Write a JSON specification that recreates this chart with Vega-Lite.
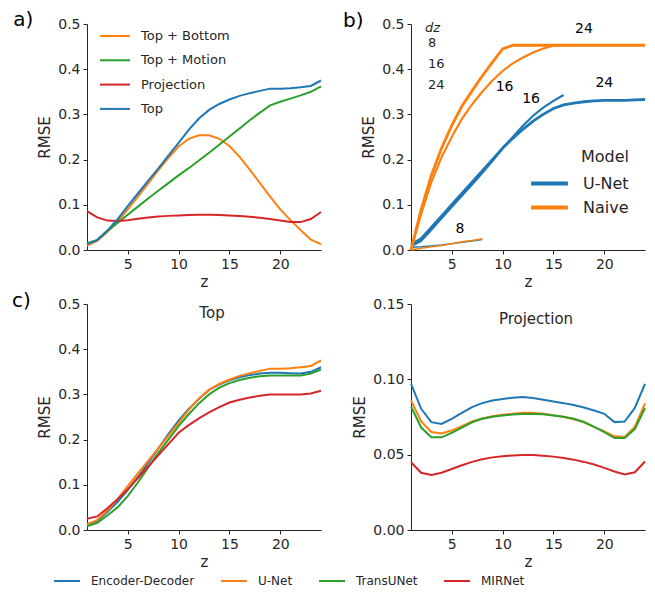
{
  "$schema": "https://vega.github.io/schema/vega-lite/v6.json",
  "padding": {"left": 12, "top": 9, "right": 6, "bottom": 6},
  "background": "white",
  "columns": 2,
  "spacing": {"row": 54, "column": 90},
  "bounds": "flush",
  "resolve": {
    "scale": {"color": "independent", "size": "independent", "x": "independent", "y": "independent"},
    "legend": {"color": "independent", "size": "independent"}
  },
  "datasets": {
    "a": [
      {"m":"Top + Bottom","z":1,"r":0.01},{"m":"Top + Bottom","z":2,"r":0.02},{"m":"Top + Bottom","z":3,"r":0.04},{"m":"Top + Bottom","z":4,"r":0.063},{"m":"Top + Bottom","z":5,"r":0.09},{"m":"Top + Bottom","z":6,"r":0.118},{"m":"Top + Bottom","z":7,"r":0.147},{"m":"Top + Bottom","z":8,"r":0.176},{"m":"Top + Bottom","z":9,"r":0.204},{"m":"Top + Bottom","z":10,"r":0.229},{"m":"Top + Bottom","z":11,"r":0.246},{"m":"Top + Bottom","z":12,"r":0.254},{"m":"Top + Bottom","z":13,"r":0.254},{"m":"Top + Bottom","z":14,"r":0.246},{"m":"Top + Bottom","z":15,"r":0.23},{"m":"Top + Bottom","z":16,"r":0.206},{"m":"Top + Bottom","z":17,"r":0.178},{"m":"Top + Bottom","z":18,"r":0.148},{"m":"Top + Bottom","z":19,"r":0.118},{"m":"Top + Bottom","z":20,"r":0.09},{"m":"Top + Bottom","z":21,"r":0.066},{"m":"Top + Bottom","z":22,"r":0.044},{"m":"Top + Bottom","z":23,"r":0.023},{"m":"Top + Bottom","z":24,"r":0.013},
      {"m":"Top + Motion","z":1,"r":0.015},{"m":"Top + Motion","z":2,"r":0.022},{"m":"Top + Motion","z":3,"r":0.042},{"m":"Top + Motion","z":4,"r":0.06},{"m":"Top + Motion","z":5,"r":0.078},{"m":"Top + Motion","z":6,"r":0.096},{"m":"Top + Motion","z":7,"r":0.114},{"m":"Top + Motion","z":8,"r":0.131},{"m":"Top + Motion","z":9,"r":0.148},{"m":"Top + Motion","z":10,"r":0.165},{"m":"Top + Motion","z":11,"r":0.181},{"m":"Top + Motion","z":12,"r":0.198},{"m":"Top + Motion","z":13,"r":0.215},{"m":"Top + Motion","z":14,"r":0.233},{"m":"Top + Motion","z":15,"r":0.251},{"m":"Top + Motion","z":16,"r":0.269},{"m":"Top + Motion","z":17,"r":0.287},{"m":"Top + Motion","z":18,"r":0.304},{"m":"Top + Motion","z":19,"r":0.32},{"m":"Top + Motion","z":20,"r":0.328},{"m":"Top + Motion","z":21,"r":0.335},{"m":"Top + Motion","z":22,"r":0.342},{"m":"Top + Motion","z":23,"r":0.35},{"m":"Top + Motion","z":24,"r":0.362},
      {"m":"Projection","z":1,"r":0.086},{"m":"Projection","z":2,"r":0.072},{"m":"Projection","z":3,"r":0.065},{"m":"Projection","z":4,"r":0.064},{"m":"Projection","z":5,"r":0.066},{"m":"Projection","z":6,"r":0.069},{"m":"Projection","z":7,"r":0.072},{"m":"Projection","z":8,"r":0.074},{"m":"Projection","z":9,"r":0.0755},{"m":"Projection","z":10,"r":0.0765},{"m":"Projection","z":11,"r":0.0772},{"m":"Projection","z":12,"r":0.0778},{"m":"Projection","z":13,"r":0.0778},{"m":"Projection","z":14,"r":0.0772},{"m":"Projection","z":15,"r":0.0762},{"m":"Projection","z":16,"r":0.075},{"m":"Projection","z":17,"r":0.0735},{"m":"Projection","z":18,"r":0.0715},{"m":"Projection","z":19,"r":0.0685},{"m":"Projection","z":20,"r":0.0655},{"m":"Projection","z":21,"r":0.0622},{"m":"Projection","z":22,"r":0.0617},{"m":"Projection","z":23,"r":0.0685},{"m":"Projection","z":24,"r":0.084},
      {"m":"Top","z":1,"r":0.013},{"m":"Top","z":2,"r":0.022},{"m":"Top","z":3,"r":0.043},{"m":"Top","z":4,"r":0.068},{"m":"Top","z":5,"r":0.097},{"m":"Top","z":6,"r":0.125},{"m":"Top","z":7,"r":0.153},{"m":"Top","z":8,"r":0.18},{"m":"Top","z":9,"r":0.209},{"m":"Top","z":10,"r":0.237},{"m":"Top","z":11,"r":0.266},{"m":"Top","z":12,"r":0.291},{"m":"Top","z":13,"r":0.31},{"m":"Top","z":14,"r":0.323},{"m":"Top","z":15,"r":0.333},{"m":"Top","z":16,"r":0.341},{"m":"Top","z":17,"r":0.347},{"m":"Top","z":18,"r":0.352},{"m":"Top","z":19,"r":0.357},{"m":"Top","z":20,"r":0.357},{"m":"Top","z":21,"r":0.358},{"m":"Top","z":22,"r":0.36},{"m":"Top","z":23,"r":0.363},{"m":"Top","z":24,"r":0.375}
    ],
    "b": [
      {"m":"U-Net","d":8,"z":1,"r":0.006},{"m":"U-Net","d":8,"z":2,"r":0.007},{"m":"U-Net","d":8,"z":3,"r":0.009},{"m":"U-Net","d":8,"z":4,"r":0.011},{"m":"U-Net","d":8,"z":5,"r":0.014},{"m":"U-Net","d":8,"z":6,"r":0.017},{"m":"U-Net","d":8,"z":7,"r":0.02},{"m":"U-Net","d":8,"z":8,"r":0.023},
      {"m":"U-Net","d":16,"z":1,"r":0.008},{"m":"U-Net","d":16,"z":2,"r":0.02},{"m":"U-Net","d":16,"z":3,"r":0.045},{"m":"U-Net","d":16,"z":4,"r":0.07},{"m":"U-Net","d":16,"z":5,"r":0.095},{"m":"U-Net","d":16,"z":6,"r":0.12},{"m":"U-Net","d":16,"z":7,"r":0.145},{"m":"U-Net","d":16,"z":8,"r":0.17},{"m":"U-Net","d":16,"z":9,"r":0.197},{"m":"U-Net","d":16,"z":10,"r":0.225},{"m":"U-Net","d":16,"z":11,"r":0.25},{"m":"U-Net","d":16,"z":12,"r":0.275},{"m":"U-Net","d":16,"z":13,"r":0.297},{"m":"U-Net","d":16,"z":14,"r":0.315},{"m":"U-Net","d":16,"z":15,"r":0.33},{"m":"U-Net","d":16,"z":16,"r":0.343},
      {"m":"U-Net","d":24,"z":1,"r":0.012},{"m":"U-Net","d":24,"z":2,"r":0.025},{"m":"U-Net","d":24,"z":3,"r":0.05},{"m":"U-Net","d":24,"z":4,"r":0.075},{"m":"U-Net","d":24,"z":5,"r":0.1},{"m":"U-Net","d":24,"z":6,"r":0.125},{"m":"U-Net","d":24,"z":7,"r":0.15},{"m":"U-Net","d":24,"z":8,"r":0.175},{"m":"U-Net","d":24,"z":9,"r":0.2},{"m":"U-Net","d":24,"z":10,"r":0.225},{"m":"U-Net","d":24,"z":11,"r":0.247},{"m":"U-Net","d":24,"z":12,"r":0.267},{"m":"U-Net","d":24,"z":13,"r":0.285},{"m":"U-Net","d":24,"z":14,"r":0.3},{"m":"U-Net","d":24,"z":15,"r":0.313},{"m":"U-Net","d":24,"z":16,"r":0.321},{"m":"U-Net","d":24,"z":17,"r":0.325},{"m":"U-Net","d":24,"z":18,"r":0.328},{"m":"U-Net","d":24,"z":19,"r":0.33},{"m":"U-Net","d":24,"z":20,"r":0.331},{"m":"U-Net","d":24,"z":21,"r":0.331},{"m":"U-Net","d":24,"z":22,"r":0.331},{"m":"U-Net","d":24,"z":23,"r":0.332},{"m":"U-Net","d":24,"z":24,"r":0.333},
      {"m":"Naive","d":8,"z":1,"r":0.0},{"m":"Naive","d":8,"z":2,"r":0.004},{"m":"Naive","d":8,"z":3,"r":0.007},{"m":"Naive","d":8,"z":4,"r":0.01},{"m":"Naive","d":8,"z":5,"r":0.014},{"m":"Naive","d":8,"z":6,"r":0.018},{"m":"Naive","d":8,"z":7,"r":0.021},{"m":"Naive","d":8,"z":8,"r":0.025},
      {"m":"Naive","d":16,"z":1,"r":0.0},{"m":"Naive","d":16,"z":2,"r":0.08},{"m":"Naive","d":16,"z":3,"r":0.15},{"m":"Naive","d":16,"z":4,"r":0.205},{"m":"Naive","d":16,"z":5,"r":0.25},{"m":"Naive","d":16,"z":6,"r":0.29},{"m":"Naive","d":16,"z":7,"r":0.322},{"m":"Naive","d":16,"z":8,"r":0.35},{"m":"Naive","d":16,"z":9,"r":0.375},{"m":"Naive","d":16,"z":10,"r":0.396},{"m":"Naive","d":16,"z":11,"r":0.413},{"m":"Naive","d":16,"z":12,"r":0.426},{"m":"Naive","d":16,"z":13,"r":0.437},{"m":"Naive","d":16,"z":14,"r":0.446},{"m":"Naive","d":16,"z":15,"r":0.452},{"m":"Naive","d":16,"z":16,"r":0.453},
      {"m":"Naive","d":24,"z":1,"r":0.0},{"m":"Naive","d":24,"z":2,"r":0.09},{"m":"Naive","d":24,"z":3,"r":0.165},{"m":"Naive","d":24,"z":4,"r":0.225},{"m":"Naive","d":24,"z":5,"r":0.275},{"m":"Naive","d":24,"z":6,"r":0.318},{"m":"Naive","d":24,"z":7,"r":0.352},{"m":"Naive","d":24,"z":8,"r":0.385},{"m":"Naive","d":24,"z":9,"r":0.415},{"m":"Naive","d":24,"z":10,"r":0.445},{"m":"Naive","d":24,"z":11,"r":0.453},{"m":"Naive","d":24,"z":12,"r":0.453},{"m":"Naive","d":24,"z":13,"r":0.453},{"m":"Naive","d":24,"z":14,"r":0.453},{"m":"Naive","d":24,"z":15,"r":0.453},{"m":"Naive","d":24,"z":16,"r":0.453},{"m":"Naive","d":24,"z":17,"r":0.453},{"m":"Naive","d":24,"z":18,"r":0.453},{"m":"Naive","d":24,"z":19,"r":0.453},{"m":"Naive","d":24,"z":20,"r":0.453},{"m":"Naive","d":24,"z":21,"r":0.453},{"m":"Naive","d":24,"z":22,"r":0.453},{"m":"Naive","d":24,"z":23,"r":0.453},{"m":"Naive","d":24,"z":24,"r":0.453}
    ],
    "blab": [
      {"t":"8","z":5.8,"r":0.046},{"t":"16","z":10.2,"r":0.36},{"t":"16","z":12.8,"r":0.334},{"t":"24","z":18.0,"r":0.49},{"t":"24","z":20.0,"r":0.37}
    ],
    "ctop": [
      {"m":"Encoder-Decoder","z":1,"r":0.012},{"m":"Encoder-Decoder","z":2,"r":0.02},{"m":"Encoder-Decoder","z":3,"r":0.04},{"m":"Encoder-Decoder","z":4,"r":0.062},{"m":"Encoder-Decoder","z":5,"r":0.088},{"m":"Encoder-Decoder","z":6,"r":0.117},{"m":"Encoder-Decoder","z":7,"r":0.148},{"m":"Encoder-Decoder","z":8,"r":0.18},{"m":"Encoder-Decoder","z":9,"r":0.212},{"m":"Encoder-Decoder","z":10,"r":0.242},{"m":"Encoder-Decoder","z":11,"r":0.268},{"m":"Encoder-Decoder","z":12,"r":0.29},{"m":"Encoder-Decoder","z":13,"r":0.31},{"m":"Encoder-Decoder","z":14,"r":0.322},{"m":"Encoder-Decoder","z":15,"r":0.331},{"m":"Encoder-Decoder","z":16,"r":0.338},{"m":"Encoder-Decoder","z":17,"r":0.343},{"m":"Encoder-Decoder","z":18,"r":0.346},{"m":"Encoder-Decoder","z":19,"r":0.348},{"m":"Encoder-Decoder","z":20,"r":0.348},{"m":"Encoder-Decoder","z":21,"r":0.347},{"m":"Encoder-Decoder","z":22,"r":0.346},{"m":"Encoder-Decoder","z":23,"r":0.35},{"m":"Encoder-Decoder","z":24,"r":0.36},
      {"m":"U-Net","z":1,"r":0.013},{"m":"U-Net","z":2,"r":0.022},{"m":"U-Net","z":3,"r":0.043},{"m":"U-Net","z":4,"r":0.068},{"m":"U-Net","z":5,"r":0.097},{"m":"U-Net","z":6,"r":0.125},{"m":"U-Net","z":7,"r":0.153},{"m":"U-Net","z":8,"r":0.18},{"m":"U-Net","z":9,"r":0.209},{"m":"U-Net","z":10,"r":0.237},{"m":"U-Net","z":11,"r":0.266},{"m":"U-Net","z":12,"r":0.291},{"m":"U-Net","z":13,"r":0.31},{"m":"U-Net","z":14,"r":0.323},{"m":"U-Net","z":15,"r":0.333},{"m":"U-Net","z":16,"r":0.341},{"m":"U-Net","z":17,"r":0.347},{"m":"U-Net","z":18,"r":0.352},{"m":"U-Net","z":19,"r":0.357},{"m":"U-Net","z":20,"r":0.357},{"m":"U-Net","z":21,"r":0.358},{"m":"U-Net","z":22,"r":0.36},{"m":"U-Net","z":23,"r":0.363},{"m":"U-Net","z":24,"r":0.375},
      {"m":"TransUNet","z":1,"r":0.008},{"m":"TransUNet","z":2,"r":0.016},{"m":"TransUNet","z":3,"r":0.032},{"m":"TransUNet","z":4,"r":0.05},{"m":"TransUNet","z":5,"r":0.075},{"m":"TransUNet","z":6,"r":0.105},{"m":"TransUNet","z":7,"r":0.138},{"m":"TransUNet","z":8,"r":0.17},{"m":"TransUNet","z":9,"r":0.2},{"m":"TransUNet","z":10,"r":0.23},{"m":"TransUNet","z":11,"r":0.256},{"m":"TransUNet","z":12,"r":0.28},{"m":"TransUNet","z":13,"r":0.3},{"m":"TransUNet","z":14,"r":0.315},{"m":"TransUNet","z":15,"r":0.325},{"m":"TransUNet","z":16,"r":0.332},{"m":"TransUNet","z":17,"r":0.337},{"m":"TransUNet","z":18,"r":0.34},{"m":"TransUNet","z":19,"r":0.342},{"m":"TransUNet","z":20,"r":0.342},{"m":"TransUNet","z":21,"r":0.342},{"m":"TransUNet","z":22,"r":0.342},{"m":"TransUNet","z":23,"r":0.346},{"m":"TransUNet","z":24,"r":0.355},
      {"m":"MIRNet","z":1,"r":0.025},{"m":"MIRNet","z":2,"r":0.03},{"m":"MIRNet","z":3,"r":0.048},{"m":"MIRNet","z":4,"r":0.068},{"m":"MIRNet","z":5,"r":0.09},{"m":"MIRNet","z":6,"r":0.115},{"m":"MIRNet","z":7,"r":0.14},{"m":"MIRNet","z":8,"r":0.165},{"m":"MIRNet","z":9,"r":0.19},{"m":"MIRNet","z":10,"r":0.215},{"m":"MIRNet","z":11,"r":0.232},{"m":"MIRNet","z":12,"r":0.247},{"m":"MIRNet","z":13,"r":0.26},{"m":"MIRNet","z":14,"r":0.272},{"m":"MIRNet","z":15,"r":0.282},{"m":"MIRNet","z":16,"r":0.288},{"m":"MIRNet","z":17,"r":0.293},{"m":"MIRNet","z":18,"r":0.297},{"m":"MIRNet","z":19,"r":0.3},{"m":"MIRNet","z":20,"r":0.3},{"m":"MIRNet","z":21,"r":0.3},{"m":"MIRNet","z":22,"r":0.3},{"m":"MIRNet","z":23,"r":0.302},{"m":"MIRNet","z":24,"r":0.308}
    ],
    "cproj": [
      {"m":"Encoder-Decoder","z":1,"r":0.0971},{"m":"Encoder-Decoder","z":2,"r":0.0804},{"m":"Encoder-Decoder","z":3,"r":0.0716},{"m":"Encoder-Decoder","z":4,"r":0.0704},{"m":"Encoder-Decoder","z":5,"r":0.0738},{"m":"Encoder-Decoder","z":6,"r":0.0778},{"m":"Encoder-Decoder","z":7,"r":0.0816},{"m":"Encoder-Decoder","z":8,"r":0.0842},{"m":"Encoder-Decoder","z":9,"r":0.086},{"m":"Encoder-Decoder","z":10,"r":0.0869},{"m":"Encoder-Decoder","z":11,"r":0.0878},{"m":"Encoder-Decoder","z":12,"r":0.0882},{"m":"Encoder-Decoder","z":13,"r":0.0876},{"m":"Encoder-Decoder","z":14,"r":0.0864},{"m":"Encoder-Decoder","z":15,"r":0.0853},{"m":"Encoder-Decoder","z":16,"r":0.0842},{"m":"Encoder-Decoder","z":17,"r":0.0829},{"m":"Encoder-Decoder","z":18,"r":0.0813},{"m":"Encoder-Decoder","z":19,"r":0.0793},{"m":"Encoder-Decoder","z":20,"r":0.0771},{"m":"Encoder-Decoder","z":21,"r":0.0716},{"m":"Encoder-Decoder","z":22,"r":0.072},{"m":"Encoder-Decoder","z":23,"r":0.081},{"m":"Encoder-Decoder","z":24,"r":0.097},
      {"m":"U-Net","z":1,"r":0.086},{"m":"U-Net","z":2,"r":0.072},{"m":"U-Net","z":3,"r":0.065},{"m":"U-Net","z":4,"r":0.064},{"m":"U-Net","z":5,"r":0.066},{"m":"U-Net","z":6,"r":0.069},{"m":"U-Net","z":7,"r":0.072},{"m":"U-Net","z":8,"r":0.074},{"m":"U-Net","z":9,"r":0.0755},{"m":"U-Net","z":10,"r":0.0765},{"m":"U-Net","z":11,"r":0.0772},{"m":"U-Net","z":12,"r":0.0778},{"m":"U-Net","z":13,"r":0.0778},{"m":"U-Net","z":14,"r":0.0772},{"m":"U-Net","z":15,"r":0.0762},{"m":"U-Net","z":16,"r":0.075},{"m":"U-Net","z":17,"r":0.0735},{"m":"U-Net","z":18,"r":0.0715},{"m":"U-Net","z":19,"r":0.0685},{"m":"U-Net","z":20,"r":0.0655},{"m":"U-Net","z":21,"r":0.0622},{"m":"U-Net","z":22,"r":0.0617},{"m":"U-Net","z":23,"r":0.0685},{"m":"U-Net","z":24,"r":0.084},
      {"m":"TransUNet","z":1,"r":0.082},{"m":"TransUNet","z":2,"r":0.068},{"m":"TransUNet","z":3,"r":0.0615},{"m":"TransUNet","z":4,"r":0.0615},{"m":"TransUNet","z":5,"r":0.0645},{"m":"TransUNet","z":6,"r":0.068},{"m":"TransUNet","z":7,"r":0.0715},{"m":"TransUNet","z":8,"r":0.0738},{"m":"TransUNet","z":9,"r":0.0752},{"m":"TransUNet","z":10,"r":0.076},{"m":"TransUNet","z":11,"r":0.0767},{"m":"TransUNet","z":12,"r":0.077},{"m":"TransUNet","z":13,"r":0.077},{"m":"TransUNet","z":14,"r":0.0768},{"m":"TransUNet","z":15,"r":0.076},{"m":"TransUNet","z":16,"r":0.0752},{"m":"TransUNet","z":17,"r":0.0738},{"m":"TransUNet","z":18,"r":0.0717},{"m":"TransUNet","z":19,"r":0.0685},{"m":"TransUNet","z":20,"r":0.065},{"m":"TransUNet","z":21,"r":0.061},{"m":"TransUNet","z":22,"r":0.061},{"m":"TransUNet","z":23,"r":0.067},{"m":"TransUNet","z":24,"r":0.081},
      {"m":"MIRNet","z":1,"r":0.045},{"m":"MIRNet","z":2,"r":0.038},{"m":"MIRNet","z":3,"r":0.0365},{"m":"MIRNet","z":4,"r":0.038},{"m":"MIRNet","z":5,"r":0.0405},{"m":"MIRNet","z":6,"r":0.043},{"m":"MIRNet","z":7,"r":0.0452},{"m":"MIRNet","z":8,"r":0.047},{"m":"MIRNet","z":9,"r":0.0482},{"m":"MIRNet","z":10,"r":0.049},{"m":"MIRNet","z":11,"r":0.0495},{"m":"MIRNet","z":12,"r":0.0497},{"m":"MIRNet","z":13,"r":0.0497},{"m":"MIRNet","z":14,"r":0.0493},{"m":"MIRNet","z":15,"r":0.0487},{"m":"MIRNet","z":16,"r":0.0478},{"m":"MIRNet","z":17,"r":0.0467},{"m":"MIRNet","z":18,"r":0.0452},{"m":"MIRNet","z":19,"r":0.0435},{"m":"MIRNet","z":20,"r":0.0412},{"m":"MIRNet","z":21,"r":0.0388},{"m":"MIRNet","z":22,"r":0.0368},{"m":"MIRNet","z":23,"r":0.0383},{"m":"MIRNet","z":24,"r":0.0455}
    ]
  },
  "concat": [
    {
      "width": 234, "height": 226,
      "layer": [
        {
          "data": {"name": "a"},
          "mark": {"type": "line", "strokeWidth": 2},
          "encoding": {
            "x": {"field": "z", "type": "quantitative", "scale": {"domain": [1, 24], "nice": false, "zero": false}, "axis": {"values": [5, 10, 15, 20], "title": "z"}},
            "y": {"field": "r", "type": "quantitative", "scale": {"domain": [0, 0.5], "nice": false}, "axis": {"values": [0, 0.1, 0.2, 0.3, 0.4, 0.5], "format": ".1f", "title": "RMSE"}},
            "color": {"field": "m", "type": "nominal", "sort": null,
              "scale": {"domain": ["Top + Bottom", "Top + Motion", "Projection", "Top"], "range": ["#ff7f0e", "#2ca02c", "#d62728", "#1f77b4"]},
              "legend": {"orient": "none", "legendX": 12, "legendY": -4, "title": null, "symbolType": "stroke", "symbolSize": 900, "symbolStrokeWidth": 2, "labelFontSize": 13, "labelOffset": 10, "rowPadding": 1.3}}
          }
        },
        {
          "data": {"values": [{"t": "a)", "z": -6.24, "r": 0.509}]},
          "mark": {"type": "text", "align": "left", "baseline": "middle", "fontSize": 20, "font": "DejaVu Sans", "color": "black"},
          "encoding": {
            "x": {"field": "z", "type": "quantitative"},
            "y": {"field": "r", "type": "quantitative"},
            "text": {"field": "t"}
          }
        }
      ]
    },
    {
      "width": 234, "height": 226,
      "layer": [
        {
          "data": {"name": "b"},
          "mark": {"type": "line"},
          "encoding": {
            "x": {"field": "z", "type": "quantitative", "scale": {"domain": [1, 24], "nice": false, "zero": false}, "axis": {"values": [5, 10, 15, 20], "title": "z"}},
            "y": {"field": "r", "type": "quantitative", "scale": {"domain": [0, 0.5], "nice": false}, "axis": {"values": [0, 0.1, 0.2, 0.3, 0.4, 0.5], "format": ".1f", "title": "RMSE"}},
            "color": {"field": "m", "type": "nominal", "sort": null,
              "scale": {"domain": ["U-Net", "Naive"], "range": ["#1f77b4", "#ff7f0e"]},
              "legend": {"orient": "none", "legendX": 125, "legendY": 125, "title": "Model", "titleFontSize": 16, "titleAnchor": "end", "titlePadding": 5, "symbolType": "M-1.6,0H1.6", "symbolSize": 529, "symbolStrokeWidth": 4, "labelFontSize": 16, "labelOffset": 20, "rowPadding": 2}},
            "size": {"field": "d", "type": "ordinal",
              "scale": {"domain": [8, 16, 24], "range": [1.5, 2.8, 4.5]},
              "legend": {"orient": "none", "legendX": 14, "legendY": -2, "title": "dz", "titleFontStyle": "italic", "titleFontSize": 13, "labelFontSize": 13, "symbolOpacity": 0, "symbolStrokeColor": "transparent", "labelOffset": -10, "rowPadding": 7, "titlePadding": 1}}
          }
        },
        {
          "data": {"name": "blab"},
          "mark": {"type": "text", "align": "center", "baseline": "middle", "fontSize": 14, "font": "DejaVu Sans", "color": "black"},
          "encoding": {
            "x": {"field": "z", "type": "quantitative"},
            "y": {"field": "r", "type": "quantitative"},
            "text": {"field": "t"}
          }
        },
        {
          "data": {"values": [{"t": "b)", "z": -5.69, "r": 0.507}]},
          "mark": {"type": "text", "align": "left", "baseline": "middle", "fontSize": 20, "font": "DejaVu Sans", "color": "black"},
          "encoding": {
            "x": {"field": "z", "type": "quantitative"},
            "y": {"field": "r", "type": "quantitative"},
            "text": {"field": "t"}
          }
        }
      ]
    },
    {
      "width": 234, "height": 226,
      "title": {"text": "Top", "fontSize": 15, "fontWeight": "normal", "frame": "group", "anchor": "middle", "offset": -30, "dx": 8},
      "layer": [
        {
          "data": {"name": "ctop"},
          "mark": {"type": "line", "strokeWidth": 2},
          "encoding": {
            "x": {"field": "z", "type": "quantitative", "scale": {"domain": [1, 24], "nice": false, "zero": false}, "axis": {"values": [5, 10, 15, 20], "title": "z"}},
            "y": {"field": "r", "type": "quantitative", "scale": {"domain": [0, 0.5], "nice": false}, "axis": {"values": [0, 0.1, 0.2, 0.3, 0.4, 0.5], "format": ".1f", "title": "RMSE"}},
            "color": {"field": "m", "type": "nominal", "sort": null,
              "scale": {"domain": ["Encoder-Decoder", "U-Net", "TransUNet", "MIRNet"], "range": ["#1f77b4", "#ff7f0e", "#2ca02c", "#d62728"]},
              "legend": null}
          }
        },
        {
          "data": {"values": [{"t": "c)", "z": -6.37, "r": 0.507}]},
          "mark": {"type": "text", "align": "left", "baseline": "middle", "fontSize": 20, "font": "DejaVu Sans", "color": "black"},
          "encoding": {
            "x": {"field": "z", "type": "quantitative"},
            "y": {"field": "r", "type": "quantitative"},
            "text": {"field": "t"}
          }
        }
      ]
    },
    {
      "width": 234, "height": 226,
      "title": {"text": "Projection", "fontSize": 15, "fontWeight": "normal", "frame": "group", "anchor": "middle", "offset": -30, "dx": 8},
      "data": {"name": "cproj"},
      "mark": {"type": "line", "strokeWidth": 2},
      "encoding": {
        "x": {"field": "z", "type": "quantitative", "scale": {"domain": [1, 24], "nice": false, "zero": false}, "axis": {"values": [5, 10, 15, 20], "title": "z"}},
        "y": {"field": "r", "type": "quantitative", "scale": {"domain": [0, 0.15], "nice": false}, "axis": {"values": [0, 0.05, 0.1, 0.15], "format": ".2f", "title": "RMSE"}},
        "color": {"field": "m", "type": "nominal", "sort": null,
          "scale": {"domain": ["Encoder-Decoder", "U-Net", "TransUNet", "MIRNet"], "range": ["#1f77b4", "#ff7f0e", "#2ca02c", "#d62728"]},
          "legend": {"orient": "none", "direction": "horizontal", "legendX": -358, "legendY": 263, "title": null, "symbolType": "stroke", "symbolSize": 676, "symbolStrokeWidth": 2, "labelFontSize": 12, "labelOffset": 10, "columnPadding": 22}}
      }
    }
  ],
  "config": {
    "font": "DejaVu Sans",
    "view": {"stroke": null},
    "axis": {"grid": false, "domainColor": "#262626", "tickColor": "#262626", "labelColor": "#262626", "titleColor": "#262626", "labelFontSize": 14, "titleFontSize": 15, "titleFontWeight": "normal", "tickSize": 4, "labelPadding": 3, "domainWidth": 1, "tickWidth": 1},
    "axisY": {"titlePadding": 5},
    "axisX": {"titlePadding": 3},
    "legend": {"labelColor": "#262626", "titleColor": "#262626", "titleFontWeight": "normal", "labelFont": "DejaVu Sans", "titleFont": "DejaVu Sans"},
    "title": {"color": "#262626", "font": "DejaVu Sans"}
  }
}
